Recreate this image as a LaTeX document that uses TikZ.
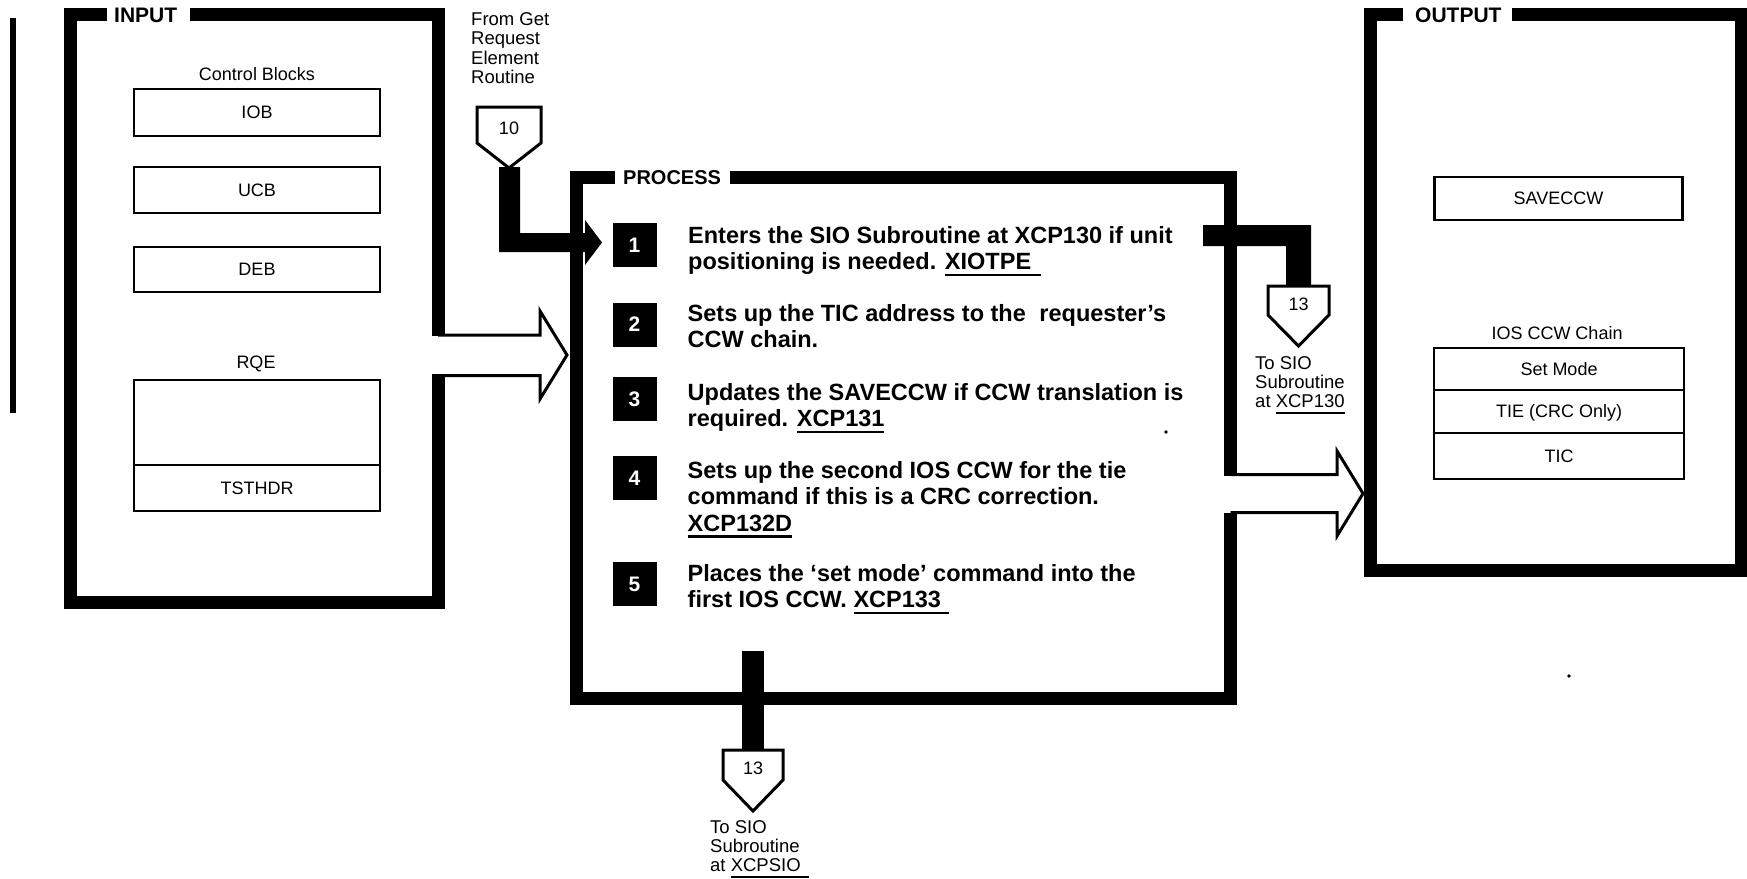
\documentclass[tikz,border=0pt]{standalone}
\usepackage{fontspec}
\setmainfont{Liberation Sans}
\newcommand{\ulx}[2][0pt]{\leavevmode\setbox0=\hbox{#2\kern#1}\rlap{\raisebox{-6.5pt}[0pt][0pt]{\rule{\wd0}{2.5pt}}}#2}
\begin{document}
\begin{tikzpicture}[x=1pt,y=-1pt,
  grp/.style={line width=13pt, line join=miter},
  thinbox/.style={draw, line width=2.5pt, minimum width=246pt, inner sep=0pt,
    text height=12.9pt, text depth=0pt, font=\fontsize{18}{20}\selectfont},
  hollow/.style={line width=3pt, line join=miter, miter limit=10},
  conn/.style={line width=3pt, fill=white, line join=miter},
  cnum/.style={inner sep=0pt, font=\fontsize{18}{18}\selectfont},
  num/.style={fill=black, text=white, minimum size=44pt, inner sep=0pt,
    font=\fontsize{21}{21}\selectfont\bfseries},
  steptext/.style={anchor=north west, inner sep=0pt, align=left,
    font=\fontsize{23.5}{26.5}\selectfont\bfseries},
  small/.style={anchor=north west, inner sep=0pt, align=left,
    font=\fontsize{18.5}{19.3}\selectfont},
  grplabel/.style={anchor=base west, inner sep=0pt, font=\fontsize{21}{21}\selectfont\bfseries},
  caption/.style={anchor=base, inner sep=0pt, font=\fontsize{18}{18}\selectfont}]
\fill[white] (0,0) rectangle (1747,878);
\useasboundingbox (0,0) rectangle (1747,878);

% left margin bar
\draw[line width=5.5pt] (13,18) -- (13,413);

% ---------------- INPUT ----------------
\draw[grp] (107,14) -- (70,14) -- (70,602.5) -- (438,602.5) -- (438,374);
\draw[grp] (438,336) -- (438,14) -- (190,14);
\node[grplabel] (inlabel) at (114,22) {INPUT};
\node[caption] (cbl) at (257,80.5) {Control Blocks};
\node[thinbox, minimum height=47pt] (iob) at (257,112.5) {IOB};
\node[thinbox, minimum height=46pt] (ucb) at (257,190) {UCB};
\node[thinbox, minimum height=45pt] (deb) at (257,269.5) {DEB};
\node[caption] (rqel) at (256,368.5) {RQE};
\node[thinbox, minimum height=85pt] (rqe) at (257,422.5) {};
\node[thinbox, minimum height=46pt] (tsthdr) at (257,488) {TSTHDR};

% input -> process arrow
\draw[hollow] (438,335) -- (540,335) -- (540,311) -- (567,355) -- (540,399) -- (540,375.5) -- (438,375.5);

% ---------------- PROCESS ----------------
\draw[grp] (615,177) -- (576,177) -- (576,698.5) -- (1230.5,698.5) -- (1230.5,513);
\draw[grp] (1230.5,476) -- (1230.5,177) -- (730,177);
\node[grplabel, font=\fontsize{20}{20}\selectfont\bfseries] (plabel) at (623,184) {PROCESS};

% process -> output arrow
\draw[hollow] (1230.5,474.5) -- (1337,474.5) -- (1337,451) -- (1363,493.5) -- (1337,536) -- (1337,512.5) -- (1230.5,512.5);

% ---------------- OUTPUT ----------------
\draw[grp] (1403,14) -- (1370,14) -- (1370,570) -- (1741.5,570) -- (1741.5,14) -- (1512,14);
\node[grplabel] (olabel) at (1415,22) {OUTPUT};
\node[thinbox, minimum width=248pt, minimum height=43pt] (saveccw) at (1558.5,198.5) {SAVECCW};
\node[caption] (chainl) at (1557,339.5) {IOS CCW Chain};
\node[thinbox, minimum width=250pt, minimum height=42pt] (setmode) at (1559,369) {Set Mode};
\node[thinbox, minimum width=250pt, minimum height=43pt] (tie) at (1559,411.5) {TIE (CRC Only)};
\node[thinbox, minimum width=250pt, minimum height=46pt] (tic) at (1559,456) {TIC};

% ---------------- connector 10 ----------------
\node[small] (from) at (471,12.3) {From Get\\Request\\Element\\Routine};
\fill (499,167) -- (520,167) -- (520,233) -- (585,233) -- (585,220) -- (602,242.5) -- (585,265) -- (585,252) -- (499,252) -- cycle;
\draw[conn] (477,107) -- (541,107) -- (541,143) -- (509,168) -- (477,143) -- cycle;
\node[cnum] (c10) at (509,128) {10};

% ---------------- steps ----------------
\node[num] (s1) at (634.5,245) {1};
\node[steptext] (t1) at (688,226.1) {Enters the SIO Subroutine at XCP130 if unit\\positioning is needed. \ulx[10pt]{XIOTPE}};
\node[num] (s2) at (634.5,324.5) {2};
\node[steptext] (t2) at (687.5,304.1) {Sets up the TIC address to the\hspace{0.3em} requester’s\\CCW chain.};
\node[num] (s3) at (634.5,399) {3};
\node[steptext] (t3) at (687.5,383.1) {Updates the SAVECCW if CCW translation is\\required. \ulx{XCP131}};
\node[num] (s4) at (634.5,478) {4};
\node[steptext] (t4) at (687.5,461.1) {Sets up the second IOS CCW for the tie\\command if this is a CRC correction.\\\ulx{XCP132D}};
\node[num] (s5) at (634.5,584) {5};
\node[steptext] (t5) at (687.5,564.1) {Places the ‘set mode’ command into the\\first IOS CCW. \ulx[8pt]{XCP133}};

% ---------------- connector 13 (right) ----------------
\fill (1203,225) -- (1311,225) -- (1311,288) -- (1286,288) -- (1286,246) -- (1203,246) -- cycle;
\draw[conn] (1268,286) -- (1329,286) -- (1329,315) -- (1298.5,346) -- (1268,315) -- cycle;
\node[cnum] (c13a) at (1298.5,304) {13};
\node[small] (to1) at (1255,356) {To SIO\\Subroutine\\at \ulx{XCP130}};

% ---------------- connector 13 (bottom) ----------------
\fill (742,651) rectangle (764,752);
\draw[conn] (723,750) -- (783,750) -- (783,780) -- (753,811) -- (723,780) -- cycle;
\node[cnum] (c13b) at (753,768) {13};
\node[small] (to2) at (710,820) {To SIO\\Subroutine\\at \ulx[8pt]{XCPSIO}};

% specks
\fill (1166,432) circle (1.8);
\fill (1569,676) circle (1.8);
\end{tikzpicture}
\end{document}
